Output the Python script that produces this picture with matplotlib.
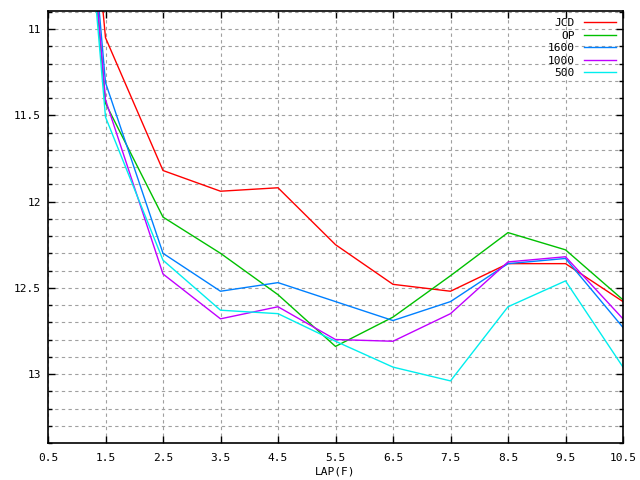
import matplotlib
matplotlib.use("Agg")
import matplotlib.pyplot as plt
from matplotlib.ticker import MultipleLocator

# lap positions and split times per series
laps = [0.5, 1.5, 2.5, 3.5, 4.5, 5.5, 6.5, 7.5, 8.5, 9.5, 10.5]
jcd  = [7.5, 11.05, 11.82, 11.94, 11.92, 12.25, 12.48, 12.52, 12.36, 12.36, 12.58]
op   = [7.5, 11.43, 12.09, 12.30, 12.54, 12.84, 12.67, 12.43, 12.18, 12.28, 12.57]
s1600 = [7.5, 11.31, 12.30, 12.52, 12.47, 12.58, 12.69, 12.58, 12.36, 12.33, 12.73]
s1000 = [7.5, 11.41, 12.42, 12.68, 12.61, 12.80, 12.81, 12.65, 12.35, 12.32, 12.68]
s500  = [7.6, 11.51, 12.34, 12.63, 12.65, 12.81, 12.96, 13.04, 12.61, 12.46, 12.96]

xticks = [0.5, 1.5, 2.5, 3.5, 4.5, 5.5, 6.5, 7.5, 8.5, 9.5, 10.5]
yticks = [11, 11.5, 12, 12.5, 13]
ytick_labels = ["11", "11.5", "12", "12.5", "13"]

series = [("JCD", jcd, "#ff0000"),
          ("OP", op, "#00c000"),
          ("1600", s1600, "#0080ff"),
          ("1000", s1000, "#c000ff"),
          ("500", s500, "#00eeee")]

plt.rcParams["font.family"] = "DejaVu Sans Mono"
plt.rcParams["font.size"] = 8

fig = plt.figure(figsize=(6.4, 4.8), dpi=100)
ax = fig.add_axes([48/640, 1 - 443/480, (623 - 48)/640, (443 - 11)/480])

for name, vals, col in series:
    ax.plot(laps, vals, color=col, lw=1.0, label=name)

ax.set_xlim(0.5, 10.5)
ax.set_ylim(13.4, 10.895)
ax.set_xticks(xticks)
ax.set_xticklabels([f"{x:g}" for x in xticks])
ax.set_yticks(yticks)
ax.set_yticklabels(ytick_labels)
ax.yaxis.set_minor_locator(MultipleLocator(0.1))

ax.tick_params(which="both", direction="in", top=True, right=True)
ax.tick_params(which="major", length=5, width=1)
ax.tick_params(which="minor", length=3, width=1)
ax.tick_params(axis="x", pad=7)
ax.tick_params(axis="y", pad=5)

gridstyle = dict(color="#a0a0a0", lw=0.8, linestyle=(0, (3, 3)))
ax.grid(which="major", axis="x", **gridstyle)
ax.grid(which="both", axis="y", **gridstyle)
ax.set_axisbelow(True)

for sp in ax.spines.values():
    sp.set_linewidth(1.2)

ax.set_xlabel("LAP(F)", labelpad=3)

leg = ax.legend(loc="upper right", frameon=False, markerfirst=False,
                handlelength=2.9, handletextpad=0.8, labelspacing=0.22,
                borderaxespad=0.25, fontsize=8)
for t in leg.get_texts():
    t.set_ha("right")

fig.savefig("out.png", dpi=100)
